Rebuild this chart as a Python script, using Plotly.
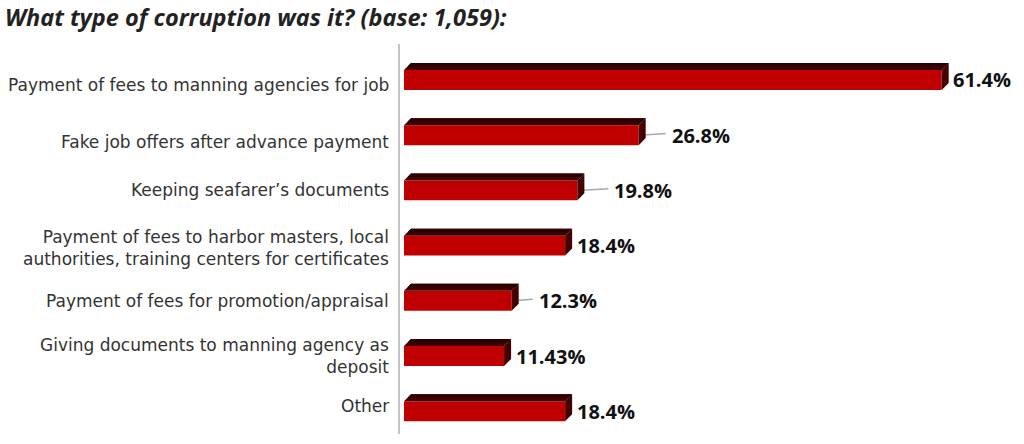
import plotly.graph_objects as go

categories = [
    "Payment of fees to manning agencies for job",
    "Fake job offers after advance payment",
    "Keeping seafarer’s documents",
    "Payment of fees to harbor masters, local<br>authorities, training centers for certificates",
    "Payment of fees for promotion/appraisal",
    "Giving documents to manning agency as<br>deposit",
    "Other",
]
values = [61.4, 26.8, 19.8, 18.4, 12.3, 11.43, 18.4]
value_labels = ["61.4%", "26.8%", "19.8%", "18.4%", "12.3%", "11.43%", "18.4%"]
title_text = "What type of corruption was it? (base: 1,059):"

# style settings
label_gap_px = [11, 33, 37, 12, 27, 12, 12]
leader = [False, True, True, False, True, False, False]
cat_yshift = [-5, -7, 0, -2, 0, 0, 5]

n = len(categories)
ypos = [n - 1 - i for i in range(n)]
bw = 0.36
dx = 0.8    # depth in x data units
dy = 0.127  # depth in y data units

FRONT = "#C00000"
TOP = "#3e0000"
TOP2 = "#2a0000"
SIDE = "#450000"

fig = go.Figure()
fig.add_trace(go.Bar(
    x=values, y=ypos, orientation="h", width=bw,
    marker=dict(color=FRONT, line=dict(width=0)),
    hoverinfo="skip",
))

shapes = []
annotations = []
for i, (v, y) in enumerate(zip(values, ypos)):
    yt = y + bw / 2
    yb = y - bw / 2
    # top face
    shapes.append(dict(
        type="path", xref="x", yref="y",
        path=f"M 0,{yt} L {dx},{yt+dy} L {v+dx},{yt+dy} L {v},{yt} Z",
        fillcolor=TOP, line=dict(width=0), layer="above"))
    shapes.append(dict(
        type="path", xref="x", yref="y",
        path=f"M {dx*0.5},{yt+dy*0.5} L {dx},{yt+dy} L {v+dx},{yt+dy} L {v+dx*0.5},{yt+dy*0.5} Z",
        fillcolor=TOP2, line=dict(width=0), layer="above"))
    # side face
    shapes.append(dict(
        type="path", xref="x", yref="y",
        path=f"M {v},{yt} L {v+dx},{yt+dy} L {v+dx},{yb+dy} L {v},{yb} Z",
        fillcolor=SIDE, line=dict(width=0), layer="above"))
    if leader[i]:
        shapes.append(dict(
            type="line", xref="x", yref="y", xsizemode="pixel", xanchor=v,
            x0=1, x1=label_gap_px[i] - 6, y0=y, y1=y + 0.03,
            line=dict(color="#a8a8a8", width=1.5), layer="below"))
    annotations.append(dict(
        x=v, y=y, xref="x", yref="y", text=value_labels[i], showarrow=False,
        xanchor="left", yanchor="middle", xshift=label_gap_px[i] - 2,
        font=dict(family="Open Sans", size=20, color="#111111", weight="bold")))
    annotations.append(dict(
        x=-0.0135, y=y, xref="paper", yref="y", text=categories[i], showarrow=False,
        xanchor="right", yanchor="middle", align="right", yshift=cat_yshift[i],
        font=dict(family="DejaVu Sans", size=17, color="#333333")))

# left axis line
shapes.append(dict(type="line", xref="paper", yref="paper", x0=0, x1=0, y0=0, y1=1,
                   line=dict(color="#c4c4c4", width=2)))

fig.update_layout(
    width=1024, height=444,
    margin=dict(l=399, r=0, t=44, b=10),
    paper_bgcolor="white", plot_bgcolor="white",
    showlegend=False,
    xaxis=dict(visible=False, range=[-0.57, 70.8], fixedrange=True),
    yaxis=dict(visible=False, range=[-0.413, 6.652], fixedrange=True),
    shapes=shapes,
    annotations=annotations,
    title=dict(
        text=f"<b><i>{title_text}</i></b>",
        x=5 / 1024, xref="container", xanchor="left",
        y=1 - 17.5 / 444, yref="container", yanchor="middle",
        font=dict(family="Open Sans", size=23.5, color="#222222"),
    ),
)

fig.write_html("out.html")
